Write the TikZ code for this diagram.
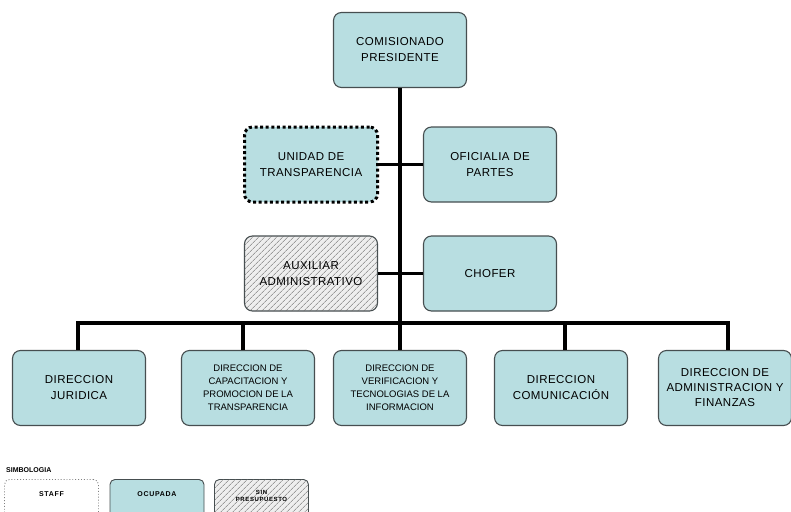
\documentclass[tikz,border=0pt]{standalone}
\usepackage{fontspec}
\setmainfont{Liberation Sans}
\newfontfamily\spaced[LetterSpace=4]{Liberation Sans}
\newfontfamily\legendfont[LetterSpace=10]{Liberation Sans}
\usetikzlibrary{patterns.meta}
\definecolor{boxfill}{RGB}{184,222,225}
\definecolor{boxedge}{RGB}{70,78,80}
\definecolor{hatchbg}{RGB}{238,238,238}
\definecolor{hatchln}{RGB}{110,110,110}
\tikzset{
  unit/.style={rounded corners=8pt, draw=boxedge, line width=1.1pt, fill=boxfill,
    minimum width=133pt, minimum height=75pt, align=center,
    font=\spaced\fontsize{11.5}{16}\selectfont, inner sep=2pt},
  dense/.style={font=\fontsize{9.5}{13}\selectfont},
  hatched/.style={postaction={pattern={Lines[angle=45, distance=4pt, line width=0.6pt]}, pattern color=hatchln}},
  staffbox/.style={unit, draw=black, line width=3pt, dash pattern=on 3pt off 2.6pt},
  vacant/.style={unit, fill=hatchbg, hatched},
  wire/.style={line width=3.2pt, black},
  legendbox/.style={rounded corners=5pt, draw=boxedge, line width=0.9pt, minimum width=94pt,
    minimum height=40pt, font=\legendfont\fontsize{7}{8}\selectfont\bfseries, align=center,
    anchor=north, inner sep=2pt}
}
\begin{document}
\begin{tikzpicture}[x=1pt, y=-1pt]
\useasboundingbox (0,0) rectangle (791,511);
\clip (0,0) rectangle (791,511);
% head of the organisation
\node[unit] (pres) at (400,50) {COMISIONADO\\PRESIDENTE};
% staff units
\node[staffbox] (unidad) at (311,164.5) {UNIDAD DE\\TRANSPARENCIA};
\node[unit] (oficialia) at (490,164.5) {OFICIALIA DE\\PARTES};
\node[vacant] (auxiliar) at (311,273.5) {AUXILIAR\\ADMINISTRATIVO};
\node[unit] (chofer) at (490,273.5) {CHOFER};
% directorates
\node[unit] (juridica) at (79,388) {DIRECCION\\JURIDICA};
\node[unit, dense] (capacitacion) at (248,388) {DIRECCION DE\\CAPACITACION Y\\PROMOCION DE LA\\TRANSPARENCIA};
\node[unit, dense] (verificacion) at (400,388) {DIRECCION DE\\VERIFICACION Y\\TECNOLOGIAS DE LA\\INFORMACION};
\node[unit] (comunicacion) at (561,388) {DIRECCION\\COMUNICACIÓN};
\node[unit, font=\spaced\fontsize{11.5}{15}\selectfont] (finanzas) at (725,388) {DIRECCION DE\\ADMINISTRACION Y\\FINANZAS};
% connectors
\coordinate (bus) at (400,323);
\coordinate (busL) at (78,323);
\coordinate (busR) at (728,323);
\draw[wire] (pres.south) -- (bus);
\draw[wire] (unidad.east) -- (oficialia.west);
\draw[wire] (auxiliar.east) -- (chofer.west);
\draw[wire, line cap=rect] (busL) -- (busR);
\draw[wire] (busL) -- (busL |- juridica.north);
\draw[wire] (capacitacion.north -| 243,0) -- (243,323);
\draw[wire] (bus) -- (verificacion.north);
\draw[wire] (565,323) -- (comunicacion.north -| 565,0);
\draw[wire] (busR) -- (busR |- finanzas.north);
% legend
\node[anchor=west, font=\fontsize{7}{8}\selectfont\bfseries, inner sep=0pt] (simb) at (6,470) {SIMBOLOGIA};
\node[legendbox, draw=gray, dotted, fill=white] (lstaff) at (51.5,479) {STAFF\\[3pt]~};
\node[legendbox, fill=boxfill] (locup) at (157,479) {OCUPADA\\[3pt]~};
\node[legendbox, fill=hatchbg, hatched,
  font=\legendfont\fontsize{6}{7}\selectfont\bfseries] (lsin) at (261.5,479) {SIN\\PRESUPUESTO\\~};
\end{tikzpicture}
\end{document}
